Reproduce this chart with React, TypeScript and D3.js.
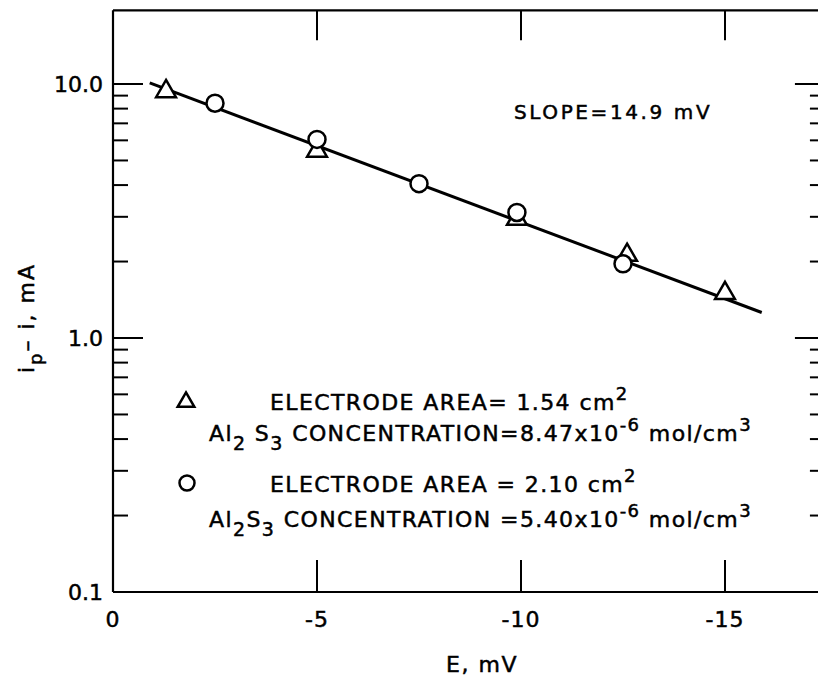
import React from 'react';
import * as d3 from 'd3';

// electrode area 1.54 cm2 (triangles)
const triangleE = [-1.3, -5, -9.9, -12.6, -15];
const triangleI = [9.35, 5.45, 2.94, 2.12, 1.5];
// electrode area 2.10 cm2 (circles)
const circleE = [-2.5, -5, -7.5, -9.9, -12.5];
const circleI = [8.4, 6.05, 4.05, 3.12, 1.96];
// fitted line end points
const fitE = [-0.9, -15.9];
const fitI = [10.1, 1.26];

const xTicks = [0, -5, -10, -15];
const xTickLabels = ['0', '-5', '-10', '-15'];
const yMajor = [0.1, 1, 10];
const yMajorLabels = ['0.1', '1.0', '10.0'];
const yMinor = [0.2, 0.3, 0.4, 0.5, 0.6, 0.7, 0.8, 0.9, 2, 3, 4, 5, 6, 7, 8, 9];

const W = 818;
const H = 678;
const FONT = '"DejaVu Sans", sans-serif';

export default function App() {
  const x = d3.scaleLinear().domain([0, -15]).range([113, 725]);
  const y = d3.scaleLog().domain([0.1, 10]).range([592, 84]);

  const left = x(0);
  const right = x(-17.4);
  const bottom = y(0.1);
  const top = y(19.5);

  const line = d3
    .line<number>()
    .x((_, i) => x(fitE[i]))
    .y((d) => y(d));

  const tri = d3.symbol().type(d3.symbolTriangle).size(170)();

  return (
    <svg
      width={W}
      height={H}
      style={{ position: 'absolute', left: 0, top: 0, background: '#fff' }}
      fontFamily={FONT}
    >
      <rect x={0} y={0} width={W} height={H} fill="#fff" />
      {/* frame */}
      <g stroke="#000" strokeWidth={2.2} fill="none">
        <line x1={left} y1={top} x2={left} y2={bottom} />
        <line x1={left} y1={bottom} x2={right} y2={bottom} />
        <line x1={left} y1={top} x2={right} y2={top} />
        <line x1={right} y1={top} x2={right} y2={bottom} />
      </g>

      {/* y ticks, left and right; x ticks, bottom and top */}
      <g stroke="#000" strokeWidth={2}>
        {yMajor.slice(1).map((v) => (
          <g key={'M' + v}>
            <line x1={left} x2={left + 30} y1={y(v)} y2={y(v)} />
            <line x1={right} x2={right - 28} y1={y(v)} y2={y(v)} />
          </g>
        ))}
        {yMinor.map((v) => (
          <g key={'m' + v}>
            <line x1={left} x2={left + 15} y1={y(v)} y2={y(v)} />
            <line x1={right} x2={right - 13} y1={y(v)} y2={y(v)} />
          </g>
        ))}
        {xTicks.slice(1).map((v) => (
          <g key={'x' + v}>
            <line x1={x(v)} x2={x(v)} y1={bottom} y2={bottom - 32} />
            <line x1={x(v)} x2={x(v)} y1={top} y2={top + 30} />
          </g>
        ))}
      </g>

      {/* tick labels */}
      <g fontSize={22} fill="#000" stroke="#000" strokeWidth={0.5}>
        {yMajor.map((v, i) => (
          <text key={v} x={left - 10} y={y(v)} dy="0.36em" textAnchor="end">
            {yMajorLabels[i]}
          </text>
        ))}
        {xTicks.map((v, i) => (
          <text key={v} x={x(v)} y={bottom + 35} textAnchor="middle" letterSpacing={1}>
            {xTickLabels[i]}
          </text>
        ))}
        <text x={482} y={672} textAnchor="middle" letterSpacing={1.5}>
          E, mV
        </text>
        <text
          transform="translate(34,318) rotate(-90)"
          textAnchor="middle"
          letterSpacing={2}
        >
          i<tspan dy={8} fontSize={18}>p</tspan>
          <tspan dy={-8}>{'\u2013 i, mA'}</tspan>
        </text>
      </g>

      {/* fitted line */}
      <path d={line(fitI) ?? ''} stroke="#000" strokeWidth={3} fill="none" />

      {/* data */}
      <g stroke="#000" strokeWidth={2.5} fill="#fff">
        {triangleE.map((e, i) => (
          <path key={'t' + i} d={tri ?? ''} transform={`translate(${x(e)},${y(triangleI[i])})`} />
        ))}
        {circleE.map((e, i) => (
          <circle key={'c' + i} cx={x(e)} cy={y(circleI[i])} r={8.5} />
        ))}
      </g>

      <g fill="#000" stroke="#000" strokeWidth={0.5}>
        <text x={514} y={119} fontSize={20} letterSpacing={2.6}>
          SLOPE=14.9 mV
        </text>

        {/* legend */}
        <g fontSize={22} letterSpacing={1.4}>
          <path
            d={d3.symbol().type(d3.symbolTriangle).size(120)() ?? ''}
            transform="translate(186,402)"
            fill="#fff"
            stroke="#000"
            strokeWidth={2.5}
          />
          <text x={270} y={410}>
            ELECTRODE AREA= 1.54 cm<tspan dy={-10} fontSize={18}>2</tspan>
          </text>
          <text x={209} y={441}>
            Al<tspan dy={9} fontSize={19}>2</tspan>
            <tspan dy={-9}> S</tspan>
            <tspan dy={9} fontSize={19}>3</tspan>
            <tspan dy={-9}> CONCENTRATION=8.47x10</tspan>
            <tspan dy={-10} fontSize={18}>-6</tspan>
            <tspan dy={10}> mol/cm</tspan>
            <tspan dy={-10} fontSize={18}>3</tspan>
          </text>

          <circle cx={187} cy={483} r={7.5} fill="#fff" stroke="#000" strokeWidth={2.5} />
          <text x={270} y={492}>
            ELECTRODE AREA = 2.10 cm<tspan dy={-10} fontSize={18}>2</tspan>
          </text>
          <text x={209} y={527}>
            Al<tspan dy={9} fontSize={19}>2</tspan>
            <tspan dy={-9}>S</tspan>
            <tspan dy={9} fontSize={19}>3</tspan>
            <tspan dy={-9}> CONCENTRATION =5.40x10</tspan>
            <tspan dy={-10} fontSize={18}>-6</tspan>
            <tspan dy={10}> mol/cm</tspan>
            <tspan dy={-10} fontSize={18}>3</tspan>
          </text>
        </g>
      </g>
    </svg>
  );
}
